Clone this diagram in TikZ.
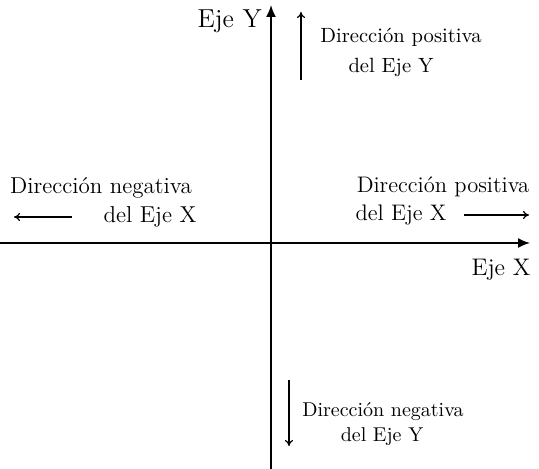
\documentclass[tikz,border=0pt]{standalone}
\usetikzlibrary{arrows.meta}
\begin{document}
\begin{tikzpicture}[x=0.5pt,y=-0.5pt,
  lbl/.style={inner sep=0pt,font=\fontsize{#1}{13}\selectfont},
  lbl/.default=11,
  axis/.style={line width=0.9pt,-{Latex[length=6pt,width=5pt]}},
  dirarrow/.style={line width=0.6pt,-{To[length=3pt,width=4pt]}}]
\useasboundingbox (0,0) rectangle (539,469);
% axes
\coordinate (yb) at (271,469);
\coordinate (yt) at (271,5);
\coordinate (xl) at (0,243);
\coordinate (xr) at (530,243);
\draw[axis] (yb) -- (yt);
\draw[axis] (xl) -- (xr);
% axis labels
\node[lbl=13,anchor=east] (ejey) at (262,21) {Eje Y};
\node[lbl=12,anchor=east] (ejex) at (531,270) {Eje X};
% positive Y
\coordinate (pya) at (301,80);
\coordinate (pyb) at (301,12);
\draw[dirarrow] (pya) -- (pyb);
\node[lbl=10.3] (py1) at (401,37) {Dirección positiva};
\node[lbl=10.3] (py2) at (391,67) {del Eje Y};
% negative X
\node[lbl=11.5] (nx1) at (101,188) {Dirección negativa};
\node[lbl=11.5] (nx2) at (150,217) {del Eje X};
\coordinate (nxa) at (72,217);
\coordinate (nxb) at (14,217);
\draw[dirarrow] (nxa) -- (nxb);
% positive X
\node[lbl=11.25] (px1) at (443,187) {Dirección positiva};
\node[lbl=11.25] (px2) at (401,215) {del Eje X};
\coordinate (pxa) at (464,215);
\coordinate (pxb) at (529,215);
\draw[dirarrow] (pxa) -- (pxb);
% negative Y
\coordinate (nya) at (289,380);
\coordinate (nyb) at (289,446);
\draw[dirarrow] (nya) -- (nyb);
\node[lbl=10] (ny1) at (383,412) {Dirección negativa};
\node[lbl=10] (ny2) at (382,437) {del Eje Y};
\end{tikzpicture}
\end{document}
